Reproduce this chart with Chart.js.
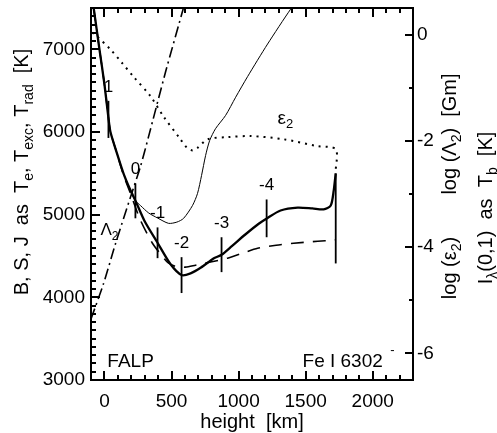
<!DOCTYPE html>
<html><head><meta charset="utf-8">
<script src="https://cdn.jsdelivr.net/npm/chart.js@4.4.0/dist/chart.umd.min.js"></script>
<style>html,body{margin:0;padding:0;background:#fff;}#wrap{width:497px;height:433px;}</style>
</head><body><div id="wrap"><canvas id="c" width="497" height="433"></canvas></div>
<script>
const FONT = '"Liberation Sans", Arial, Helvetica, sans-serif';

// x ticks / y ticks
const xTicks = [0, 500, 1000, 1500, 2000];
const leftTicks = [3000, 4000, 5000, 6000, 7000];
const rightTicks = [0, -2, -4, -6];

// B (thick solid), temperature [K] vs height [km]
const bHeight = [-80,-37,0,30,45,90,142,190,231,300,396,493,575,642,720,813,873,950,1050,1150,1216,1313,1440,1550,1634,1687,1709,1724];
const bTemp   = [7500,7000,6580,6170,6000,5760,5500,5310,5170,4920,4660,4400,4270,4290,4360,4470,4515,4620,4760,4890,4960,5050,5085,5075,5064,5110,5290,5500];

// S (thin solid)
const sHeight = [-80,-37,0,30,45,90,142,190,231,269,330,396,478,540,590,657,694,724,754,784,828,903,978,1067,1216,1388,1420];
const sTemp   = [7500,7000,6580,6170,6000,5760,5500,5310,5170,5110,5020,4960,4895,4910,4955,5112,5257,5474,5715,5895,6040,6200,6420,6670,7064,7486,7540];

// J (dashed)
const jHeight = [-80,-37,0,30,45,90,142,194,269,358,430,478,540,604,679,800,918,1030,1142,1280,1410,1590,1701,1724];
const jTemp   = [7500,7000,6580,6170,6000,5760,5480,5257,4931,4654,4500,4413,4370,4365,4389,4430,4474,4535,4594,4630,4654,4678,4690,4695];

// log(eps2) (dotted, right axis)
const epsHeight = [-90,-52,45,130,216,343,440,567,615,657,695,769,918,1090,1336,1590,1724,1724];
const epsLog    = [0.04,-0.04,-0.28,-0.53,-0.79,-1.16,-1.54,-1.97,-2.13,-2.18,-2.13,-1.97,-1.93,-1.91,-1.97,-2.10,-2.16,-2.57];

// log(Lambda2) (dash-dot, right axis)
const lamHeight = [-100,-7,82,194,269,328,455,590,612];
const lamLog    = [-5.35,-4.69,-3.94,-3.06,-2.48,-1.93,-0.71,0.51,0.73];

// tau markers (log tau labels)
const tauHeight = [30,231,396,575,873,1209,1724];
const tauLow    = [5928,4956,4474,4052,4305,4727,4410];
const tauHigh   = [6377,5378,4846,4486,4727,5184,5498];
const tauLabel  = ['1','0','-1','-2','-3','-4',''];

// minor tick spacing per axis
const xMinorStep = 100, leftMinorStep = 100, rightMinorStep = 1;

const pts = (xs, ys) => xs.map((x, i) => ({x, y: ys[i]}));

const datasets = [
  {data: pts(bHeight, bTemp), borderWidth: 2.3, yAxisID: 'y'},
  {data: pts(sHeight, sTemp), borderWidth: 1, yAxisID: 'y'},
  {data: pts(jHeight, jTemp), borderWidth: 1.6, borderDash: [13, 9], yAxisID: 'y'},
  {data: pts(epsHeight, epsLog), borderWidth: 2, borderDash: [2, 5], yAxisID: 'y2', tension: 0.3},
  {data: pts(lamHeight, lamLog), borderWidth: 1.6, borderDash: [11, 4, 2, 4], yAxisID: 'y2'},
];
tauHeight.forEach((h, i) => {
  datasets.push({data: [{x: h, y: tauLow[i]}, {x: h, y: tauHigh[i]}], borderWidth: 1.8, yAxisID: 'y', tension: 0});
});
datasets.forEach(d => {
  d.showLine = true; d.pointRadius = 0; d.borderColor = '#000'; d.backgroundColor = '#000'; d.fill = false;
  if (d.tension === undefined) d.tension = 0.25;
});

function rich(ctx, parts, x, y, rot, size, align) {
  const sub = Math.round(size * 0.68);
  ctx.save();
  ctx.translate(x, y);
  ctx.rotate(rot);
  let w = 0;
  parts.forEach(p => { ctx.font = (p.s ? sub : size) + 'px ' + FONT; w += ctx.measureText(p.t).width; });
  let cx = align === 'left' ? 0 : (align === 'right' ? -w : -w / 2);
  ctx.textBaseline = 'alphabetic'; ctx.textAlign = 'left'; ctx.fillStyle = '#000';
  parts.forEach(p => {
    ctx.font = (p.s ? sub : size) + 'px ' + FONT;
    ctx.fillText(p.t, cx, p.s ? size * 0.25 : 0);
    cx += ctx.measureText(p.t).width;
  });
  ctx.restore();
}

const decor = {
  id: 'decor',
  afterDraw(chart) {
    const ctx = chart.ctx, ca = chart.chartArea;
    const xs = chart.scales.x, yl = chart.scales.y, yr = chart.scales.y2;
    ctx.save();
    ctx.setLineDash([]);
    ctx.globalAlpha = 1;
    ctx.fillStyle = '#000';
    // frame
    const L0 = Math.round(ca.left), R0 = Math.round(ca.right), T0 = Math.round(ca.top), B0 = Math.round(ca.bottom);
    ctx.fillRect(L0 - 1, T0 - 1, R0 - L0 + 2, 2);
    ctx.fillRect(L0 - 1, B0 - 1, R0 - L0 + 2, 2);
    ctx.fillRect(L0 - 1, T0 - 1, 2, B0 - T0 + 2);
    ctx.fillRect(R0 - 1, T0 - 1, 2, B0 - T0 + 2);
    // inward ticks
    for (let v = xs.min; v <= xs.max + 1e-6; v += xMinorStep) {
      const p = Math.round(xs.getPixelForValue(v));
      const len = (Math.round(v) % 500 === 0) ? 9 : 5;
      ctx.fillRect(p - 1, B0 - len, 2, len);
      ctx.fillRect(p - 1, T0, 2, len);
    }
    for (let v = yl.min; v <= yl.max + 1e-6; v += leftMinorStep) {
      const p = Math.round(yl.getPixelForValue(v));
      const len = (Math.round(v) % 1000 === 0) ? 9 : 5;
      ctx.fillRect(L0, p - 1, len, 2);
    }
    for (let v = -6; v <= 0; v += rightMinorStep) {
      const p = Math.round(yr.getPixelForValue(v));
      const len = (v % 2 === 0) ? 8 : 4;
      ctx.fillRect(R0 - len, p - 1, len, 2);
    }

    // tau labels
    ctx.font = '17px ' + FONT;
    ctx.textAlign = 'center'; ctx.textBaseline = 'middle';
    tauHeight.forEach((h, i) => {
      if (!tauLabel[i]) return;
      ctx.fillText(tauLabel[i], xs.getPixelForValue(h), yl.getPixelForValue(tauHigh[i]) - 14);
    });

    // in-plot labels
    rich(ctx, [{t: 'ε'}, {t: '2', s: 1}], xs.getPixelForValue(1290), yl.getPixelForValue(6100), 0, 19, 'left');
    rich(ctx, [{t: 'Λ'}, {t: '2', s: 1}], xs.getPixelForValue(-30), yl.getPixelForValue(4750), 0, 17, 'left');
    rich(ctx, [{t: 'FALP'}], xs.getPixelForValue(22), yl.getPixelForValue(3160), 0, 19, 'left');
    rich(ctx, [{t: 'Fe I 6302'}], xs.getPixelForValue(2075), yl.getPixelForValue(3160), 0, 19, 'right');
    rich(ctx, [{t: '-'}], xs.getPixelForValue(2130), yl.getPixelForValue(3320), 0, 13, 'left');

    // axis titles
    const rot = -Math.PI / 2;
    rich(ctx, [{t: 'B, S, J  as  T'}, {t: 'e', s: 1}, {t: ', T'}, {t: 'exc', s: 1}, {t: ', T'}, {t: 'rad', s: 1}, {t: '  [K]'}], 28, 172, rot, 20, 'center');
    rich(ctx, [{t: 'log ('}, {t: 'Λ'}, {t: '2', s: 1}, {t: ')  [Gm]'}], 456, 134, rot, 20, 'center');
    rich(ctx, [{t: 'log ('}, {t: 'ε'}, {t: '2', s: 1}, {t: ')'}], 456, 268, rot, 20, 'center');
    rich(ctx, [{t: 'I'}, {t: 'λ', s: 1}, {t: '(0,1)  as  T'}, {t: 'b', s: 1}, {t: '  [K]'}], 492, 208, rot, 20, 'center');
    rich(ctx, [{t: 'height  [km]'}], (ca.left + ca.right) / 2, 428, 0, 20, 'center');
    ctx.restore();
  }
};

const tickFont = {family: FONT, size: 19};
const noPad = s => { s.paddingTop = 0; s.paddingBottom = 0; s.paddingLeft = 0; s.paddingRight = 0; };
new Chart(document.getElementById('c'), {
  type: 'scatter',
  data: {datasets},
  options: {
    responsive: false, animation: false, devicePixelRatio: 1,
    layout: {padding: {top: 8, left: 0, right: 0, bottom: 0}},
    plugins: {legend: {display: false}, tooltip: {enabled: false}},
    scales: {
      x: {
        type: 'linear', position: 'bottom', min: -100, max: 2300,
        grid: {display: false, drawTicks: false}, border: {display: false},
        ticks: {font: tickFont, color: '#000', padding: 10, maxRotation: 0, callback: v => String(v)},
        afterBuildTicks: s => { s.ticks = xTicks.map(v => ({value: v})); },
        afterFit: s => { s.height = 53; noPad(s); }
      },
      y: {
        type: 'linear', position: 'left', min: 3000, max: 7500,
        grid: {display: false, drawTicks: false}, border: {display: false},
        ticks: {font: tickFont, color: '#000', padding: 6, callback: v => String(v)},
        afterBuildTicks: s => { s.ticks = leftTicks.map(v => ({value: v})); },
        afterFit: s => { s.width = 91; noPad(s); }
      },
      y2: {
        type: 'linear', position: 'right', min: -6.5, max: 0.5,
        grid: {display: false, drawTicks: false}, border: {display: false},
        ticks: {font: tickFont, color: '#000', padding: 4, callback: v => String(v)},
        afterBuildTicks: s => { s.ticks = rightTicks.map(v => ({value: v})); },
        afterFit: s => { s.width = 84; noPad(s); }
      }
    }
  },
  plugins: [decor]
});
</script></body></html>
